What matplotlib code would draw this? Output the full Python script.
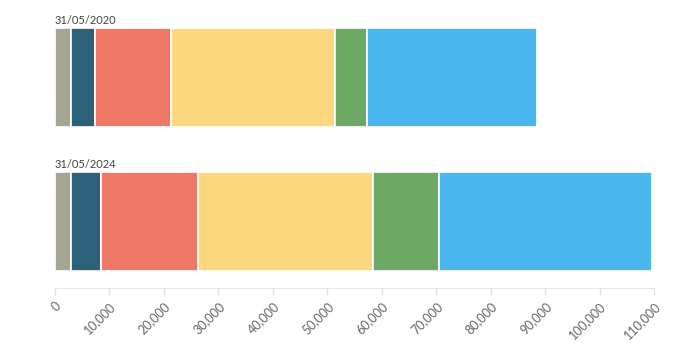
import matplotlib
matplotlib.use("Agg")
import matplotlib.pyplot as plt
from matplotlib.ticker import FuncFormatter

plt.rcParams['font.family'] = ['Lato', 'DejaVu Sans']

dates = ["31/05/2020", "31/05/2024"]
seg1 = [2900, 2940]
seg2 = [4500, 5470]
seg3 = [13870, 17910]
seg4 = [30150, 32050]
seg5 = [5880, 12210]
seg6 = [31220, 39060]
segments = [seg1, seg2, seg3, seg4, seg5, seg6]
colors = ["#a6a592", "#2d6179", "#f07868", "#fcd97f", "#6da865", "#4ab7ee"]
xticks = list(range(0, 110001, 10000))

fig = plt.figure(figsize=(6.81, 3.54), dpi=100)
ax = fig.add_axes([55 / 681, 1 - 288.3 / 354, 599 / 681, 260.6 / 354])

ypos = list(range(len(dates)))
left = [0] * len(dates)
for vals, c in zip(segments, colors):
    ax.barh(ypos, vals, left=left, height=0.69, color=c, edgecolor="white", linewidth=1.2)
    left = [l + v for l, v in zip(left, vals)]

for y, d in zip(ypos, dates):
    ax.annotate(d, xy=(0, y - 0.345), xytext=(0, 1.5), textcoords="offset points",
                ha="left", va="bottom", fontsize=8, color="#444444")

ax.set_xlim(0, 110000)
ax.set_ylim(1.467, -0.3466)
ax.set_xticks(xticks)
ax.xaxis.set_major_formatter(FuncFormatter(lambda v, p: f"{int(v):,}"))
ax.set_yticks([])
for s in ["top", "right", "left"]:
    ax.spines[s].set_visible(False)
ax.spines["bottom"].set_color("#e6e6e6")
ax.tick_params(axis="x", colors="#e0e0e0", length=5, width=1, labelcolor="#666666", labelsize=9)
plt.setp(ax.get_xticklabels(), rotation=45, ha="right", rotation_mode="anchor")

fig.savefig("out.png", dpi=100)
